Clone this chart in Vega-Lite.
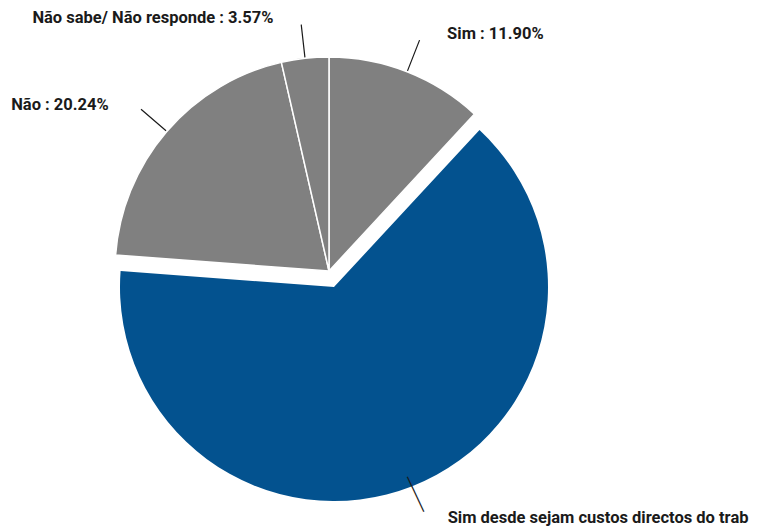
{
  "$schema": "https://vega.github.io/schema/vega-lite/v6.json",
  "width": 658,
  "height": 520,
  "autosize": {"type": "none"},
  "padding": {"left": 0, "top": 11, "right": 105, "bottom": 0},
  "background": "white",
  "view": {"stroke": null},
  "config": {"text": {"font": "Roboto", "fontWeight": "bold", "fontSize": 16.5, "fill": "#1a1a1a"}},
  "data": {"values": [
    {"categoria": "Sim", "valor": 11.90, "rotulo": "Sim : 11.90%"},
    {"categoria": "Sim desde sejam custos directos do trabalho", "valor": 64.29, "rotulo": "Sim desde sejam custos directos do trabalho : 64.29%"},
    {"categoria": "Não", "valor": 20.24, "rotulo": "Não : 20.24%"},
    {"categoria": "Não sabe/ Não responde", "valor": 3.57, "rotulo": "Não sabe/ Não responde : 3.57%"}
  ]},
  "encoding": {
    "theta": {"field": "valor", "type": "quantitative", "stack": true, "scale": {"domain": [0, 100], "range": [4.7871, 11.0703]}},
    "detail": {"field": "categoria", "type": "nominal"}
  },
  "layer": [
    {
      "mark": {"type": "arc", "radius": 214, "stroke": "white", "strokeWidth": 1.5},
      "encoding": {
        "fill": {"value": "#808080"},
        "opacity": {"condition": {"test": "datum.categoria === 'Sim desde sejam custos directos do trabalho'", "value": 0}, "value": 1}
      }
    },
    {
      "mark": {"type": "arc", "radius": 214, "xOffset": 5, "yOffset": 16},
      "encoding": {
        "fill": {"value": "#03528F"},
        "opacity": {"condition": {"test": "datum.categoria === 'Sim desde sejam custos directos do trabalho'", "value": 1}, "value": 0}
      }
    },
    {
      "mark": {"type": "arc", "radius": 248, "radius2": 215, "padAngle": 3.1, "fill": null, "stroke": "#1a1a1a", "strokeWidth": 1.2},
      "encoding": {
        "strokeOpacity": {"condition": {"test": "datum.categoria === 'Sim desde sejam custos directos do trabalho'", "value": 0}, "value": 1}
      }
    },
    {
      "mark": {"type": "text", "radius": 222, "angle": -25, "align": "center", "baseline": "middle", "font": "Roboto", "fontWeight": 100, "fontSize": 46, "xOffset": 5, "yOffset": 16, "fill": "#1a1a1a"},
      "encoding": {
        "text": {"condition": {"test": "datum.categoria === 'Sim desde sejam custos directos do trabalho'", "value": "|"}, "value": ""}
      }
    },
    {
      "mark": {"type": "text", "radius": 255, "align": "left", "baseline": "middle", "dx": 25},
      "encoding": {
        "text": {"condition": {"test": "datum.categoria === 'Sim'", "field": "rotulo"}, "value": ""}
      }
    },
    {
      "mark": {"type": "text", "radius": 255, "align": "right", "baseline": "middle", "dx": -27},
      "encoding": {
        "text": {"condition": {"test": "datum.categoria === 'Não' || datum.categoria === 'Não sabe/ Não responde'", "field": "rotulo"}, "value": ""}
      }
    },
    {
      "mark": {"type": "text", "radius": 248, "align": "left", "baseline": "middle", "dx": 23, "xOffset": 5, "yOffset": 16, "limit": 302, "ellipsis": "\u200b"},
      "encoding": {
        "text": {"condition": {"test": "datum.categoria === 'Sim desde sejam custos directos do trabalho'", "field": "rotulo"}, "value": ""}
      }
    }
  ]
}
